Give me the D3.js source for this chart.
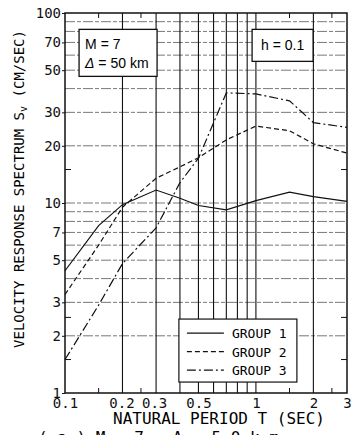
<!DOCTYPE html>
<html>
<head>
<meta charset="utf-8">
<script src="https://cdn.jsdelivr.net/npm/d3@7"></script>
<style>
  body { margin: 0; background: #fff; }
  svg { display: block; }
</style>
</head>
<body>
<div id="chart"></div>
<script>
// natural periods (sec) where the curves were sampled
const periods = [0.1, 0.15, 0.2, 0.3, 0.4, 0.5, 0.7, 1, 1.5, 2, 3];

// velocity response spectrum Sv (cm/sec) for each group
const group1 = [4.4, 7.6, 9.8, 11.7, 10.6, 9.7, 9.2, 10.3, 11.4, 10.8, 10.2];
const group2 = [3.3, 6.0, 9.5, 13.5, 15.5, 17.3, 21.5, 25.4, 24.0, 20.5, 18.3];
const group3 = [1.5, 2.9, 4.8, 7.4, 12.8, 17.2, 38.0, 37.5, 34.5, 26.5, 25.0];

const seriesNames = ["GROUP 1", "GROUP 2", "GROUP 3"];

// axis ticks
const xTickLabels = [0.1, 0.2, 0.3, 0.5, 1, 2, 3];
const xGrid = [0.2, 0.3, 0.4, 0.5, 0.6, 0.7, 0.8, 0.9, 1, 2];
const xMinor = [0.15, 0.25, 1.5, 2.5];
const yTickLabels = [1, 2, 3, 5, 7, 10, 20, 30, 50, 70, 100];
const yGrid = [2, 3, 4, 5, 6, 7, 8, 9, 10, 20, 30, 40, 50, 60, 70, 80, 90];
const yMinor = [1.5, 2.5, 15];

const width = 354;
const height = 435;
const margin = { top: 13, right: 7, bottom: 42, left: 65 };
const innerWidth = width - margin.left - margin.right;
const innerHeight = height - margin.top - margin.bottom;

const mono = "'DejaVu Sans Mono', monospace";
const sans = "'Liberation Sans', Arial, sans-serif";

const svg = d3.select("#chart")
    .append("svg")
    .attr("width", width)
    .attr("height", height);

const g = svg.append("g")
    .attr("transform", `translate(${margin.left},${margin.top})`);

// --- scales (log-log) ---
const x = d3.scaleLog().domain([0.1, 3]).range([0, innerWidth]);
const y = d3.scaleLog().domain([1, 100]).range([innerHeight, 0]);

// --- grid ---
g.append("g")
    .selectAll("line")
    .data(yGrid)
    .join("line")
    .attr("x1", 0)
    .attr("x2", innerWidth)
    .attr("y1", d => y(d))
    .attr("y2", d => y(d))
    .attr("stroke", "#555")
    .attr("stroke-width", 0.8)
    .attr("stroke-dasharray", "10,2,4,2");

g.append("g")
    .selectAll("line")
    .data(xGrid)
    .join("line")
    .attr("x1", d => x(d))
    .attr("x2", d => x(d))
    .attr("y1", 0)
    .attr("y2", innerHeight)
    .attr("stroke", "#111")
    .attr("stroke-width", 1.1);

// minor ticks, drawn inward on all four sides
const minor = g.append("g").attr("stroke", "#111").attr("stroke-width", 1);
xMinor.forEach(v => {
    minor.append("line").attr("x1", x(v)).attr("x2", x(v)).attr("y1", innerHeight).attr("y2", innerHeight - 5);
    minor.append("line").attr("x1", x(v)).attr("x2", x(v)).attr("y1", 0).attr("y2", 5);
});
yMinor.forEach(v => {
    minor.append("line").attr("x1", 0).attr("x2", 6).attr("y1", y(v)).attr("y2", y(v));
    minor.append("line").attr("x1", innerWidth).attr("x2", innerWidth - 6).attr("y1", y(v)).attr("y2", y(v));
});

// --- axes ---
const yAxis = g.append("g")
    .call(d3.axisLeft(y).tickValues(yTickLabels).tickFormat(d3.format("d")).tickSize(3).tickPadding(1));

const xAxis = g.append("g")
    .attr("transform", `translate(0,${innerHeight})`)
    .call(d3.axisBottom(x).tickValues(xTickLabels).tickFormat(d => d).tickSize(0).tickPadding(5));

[xAxis, yAxis].forEach(ax => {
    ax.select(".domain").remove();
    ax.selectAll("text")
        .attr("fill", "#111")
        .style("font-family", mono)
        .style("font-size", "14px");
    ax.selectAll("line").attr("stroke", "#111");
});
// 0.2 and 0.3 sit close together in the print
xAxis.selectAll(".tick text").filter(d => d === 0.2).attr("dx", -1);
xAxis.selectAll(".tick text").filter(d => d === 0.3).attr("dx", -2);

// frame
g.append("rect")
    .attr("width", innerWidth)
    .attr("height", innerHeight)
    .attr("fill", "none")
    .attr("stroke", "#111")
    .attr("stroke-width", 1.5);

// --- curves ---
const styles = ["none", "5,3", "9,3,2,3"];
const seriesData = [group1, group2, group3];

const line = d3.line()
    .x(d => x(d[0]))
    .y(d => y(d[1]));

seriesData.forEach((vals, i) => {
    g.append("path")
        .datum(periods.map((p, j) => [p, vals[j]]))
        .attr("d", line)
        .attr("fill", "none")
        .attr("stroke", "#111")
        .attr("stroke-width", 1.2)
        .attr("stroke-dasharray", styles[i]);
});

// --- annotation boxes ---
const boxM = g.append("g").attr("transform", `translate(${x(0.1185)},${y(82)})`);
boxM.append("rect")
    .attr("width", 78).attr("height", 47)
    .attr("fill", "#fff").attr("stroke", "#111").attr("stroke-width", 1.3);
boxM.append("text")
    .attr("x", 6).attr("y", 20)
    .style("font-family", sans).style("font-size", "14px")
    .text("M = 7");
boxM.append("text")
    .attr("x", 6).attr("y", 39)
    .style("font-family", sans).style("font-size", "14px")
    .html("<tspan font-style='italic'>Δ</tspan> = 50 km");

const boxH = g.append("g").attr("transform", `translate(${x(0.955)},${y(82)})`);
boxH.append("rect")
    .attr("width", 61).attr("height", 32)
    .attr("fill", "#fff").attr("stroke", "#111").attr("stroke-width", 1.3);
boxH.append("text")
    .attr("x", 30.5).attr("y", 21)
    .attr("text-anchor", "middle")
    .style("font-family", sans).style("font-size", "14px")
    .text("h = 0.1");

// --- legend ---
const legend = g.append("g").attr("transform", `translate(${x(0.395)},${y(2.45)})`);
legend.append("rect")
    .attr("width", 118).attr("height", 63)
    .attr("fill", "#fff").attr("stroke", "#111").attr("stroke-width", 1.2);
seriesNames.forEach((name, i) => {
    const ly = 14 + i * 18.5;
    legend.append("line")
        .attr("x1", 8).attr("x2", 45)
        .attr("y1", ly).attr("y2", ly)
        .attr("stroke", "#111").attr("stroke-width", 1.2)
        .attr("stroke-dasharray", styles[i]);
    legend.append("text")
        .attr("x", 53).attr("y", ly + 5)
        .style("font-family", mono).style("font-size", "13px")
        .text(name);
});

// --- axis titles ---
svg.append("text")
    .attr("transform", `translate(24,189) rotate(-90)`)
    .attr("text-anchor", "middle")
    .style("font-family", mono)
    .style("font-size", "14px")
    .html("VELOCITY RESPONSE SPECTRUM S<tspan font-size='10px' dy='3'>v</tspan><tspan dy='-3'> (CM/SEC)</tspan>");

svg.append("text")
    .attr("x", 219)
    .attr("y", 424)
    .attr("text-anchor", "middle")
    .style("font-family", mono)
    .style("font-size", "16px")
    .text("NATURAL PERIOD T (SEC)");

// caption, cut off at the bottom edge of the scan
svg.append("text")
    .attr("x", 38)
    .attr("y", 443)
    .style("font-family", mono)
    .style("font-size", "16px")
    .text("( a )   M = 7 , Δ = 5 0 k m");
</script>
</body>
</html>
